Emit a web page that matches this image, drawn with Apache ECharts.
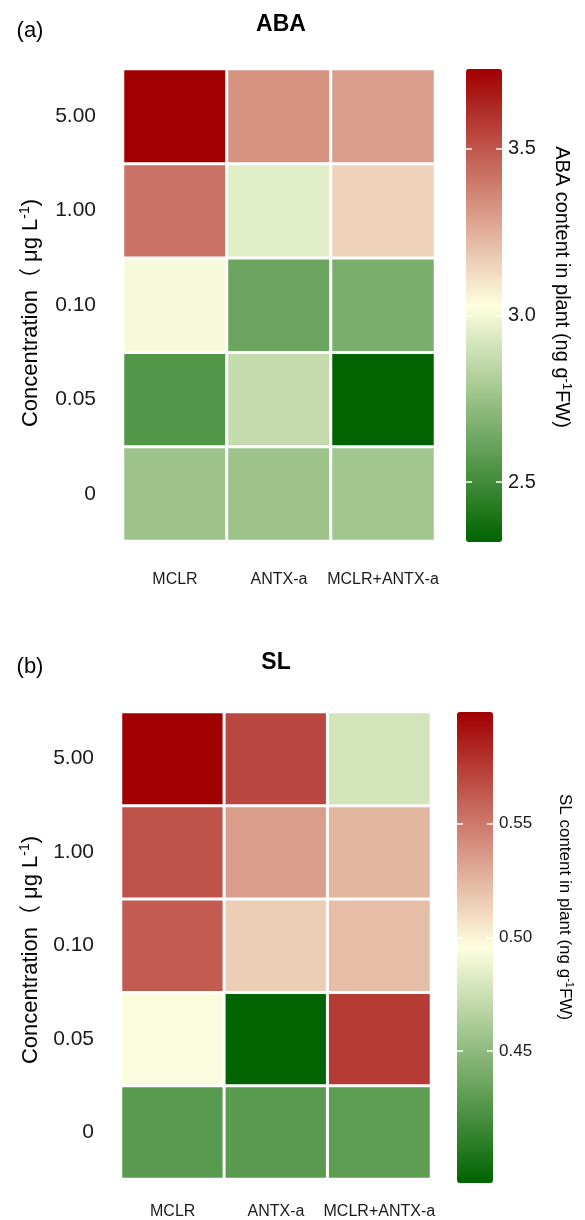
<!DOCTYPE html>
<html>
<head>
<meta charset="utf-8">
<script src="https://cdn.jsdelivr.net/npm/echarts@6/dist/echarts.min.js"></script>
<style>
html,body{margin:0;padding:0;background:#fff;}
#c{width:585px;height:1220px;}
</style>
</head>
<body>
<div id="c"></div>
<script>
// ---- data ----
const treatments = ['MCLR', 'ANTX-a', 'MCLR+ANTX-a'];
const concentrations = ['0', '0.05', '0.10', '1.00', '5.00']; // bottom -> top
// ABA content (ng g-1 FW), ordered as concentrations
const abaMCLR = [2.76, 2.55, 3.01, 3.42, 3.74];
const abaANTX = [2.76, 2.87, 2.62, 2.95, 3.33];
const abaMix  = [2.77, 2.32, 2.66, 3.15, 3.30];
// SL content (ng g-1 FW)
const slMCLR = [0.428, 0.494, 0.562, 0.565, 0.599];
const slANTX = [0.428, 0.392, 0.515, 0.535, 0.570];
const slMix  = [0.430, 0.575, 0.522, 0.525, 0.478];
const abaRange = [2.32, 3.74];
const slRange = [0.392, 0.599];
const abaTicks = [2.5, 3.0, 3.5];
const slTicks = [0.45, 0.50, 0.55];

function cells(arrs) {
  const out = [];
  arrs.forEach((arr, ci) => arr.forEach((v, ri) => out.push([ci, ri, v])));
  return out;
}
const abaData = cells([abaMCLR, abaANTX, abaMix]);
const slData = cells([slMCLR, slANTX, slMix]);

const FONT = '"Liberation Sans", Arial, "Noto Sans CJK SC", sans-serif';
const TXT = '#1a1a1a';
const ramp = ['#006400', '#FEFEE0', '#A00000'];

const A = {left: 123, top: 69, width: 312, height: 472, cbLeft: 466, cbWidth: 36, cbTop: 69, cbHeight: 473};
const B = {left: 121, top: 712, width: 310, height: 470, cbLeft: 457, cbWidth: 36, cbTop: 712, cbHeight: 471};

function catX(gi, margin) {
  return {type: 'category', gridIndex: gi, data: treatments,
    axisLine: {show: false}, axisTick: {show: false}, splitLine: {show: false},
    axisLabel: {interval: 0, fontSize: 16, color: TXT, fontFamily: FONT, margin: margin}};
}
function catY(gi) {
  return {type: 'category', gridIndex: gi, data: concentrations,
    axisLine: {show: false}, axisTick: {show: false}, splitLine: {show: false},
    axisLabel: {interval: 0, fontSize: 21, color: TXT, fontFamily: FONT, margin: 27}};
}
function hidX(gi) {
  return {type: 'value', gridIndex: gi, show: false, min: 0, max: 1};
}
function cbY(gi, range, ticks, pos, labels, dec, size) {
  return {type: 'value', gridIndex: gi, position: pos, min: range[0], max: range[1], z: 10,
    axisLine: {show: false}, splitLine: {show: false},
    axisTick: {show: true, inside: true, length: 6, customValues: ticks, lineStyle: {color: '#ffffff', width: 1.5}},
    axisLabel: {show: labels, customValues: ticks, fontSize: size, color: TXT, fontFamily: FONT, margin: 6,
      formatter: v => Number(v).toFixed(dec)}};
}

function rich(size) {
  return {
    a: {fontSize: size, fontFamily: FONT, color: TXT},
    s: {fontSize: Math.round(size * 0.65), fontFamily: FONT, color: TXT, padding: [0, 0, Math.round(size * 0.5), 0]}
  };
}

function rotText(x, y, text, r, rot) {
  return {type: 'text', x: x, y: y, rotation: rot, z: 20,
    style: {text: text, rich: r, align: 'center', verticalAlign: 'middle'}};
}
function plainText(x, y, text, size, bold) {
  return {type: 'text', x: x, y: y, z: 20,
    style: {text: text, fontSize: size, fontWeight: bold ? 'bold' : 'normal', fontFamily: FONT,
      fill: '#000', align: 'center', verticalAlign: 'middle'}};
}

const concName = '{a|Concentration（ μg L}{s|-1}{a|)}';

const option = {
  animation: false,
  backgroundColor: '#ffffff',
  grid: [
    {left: A.left, top: A.top, width: A.width, height: A.height},
    {left: B.left, top: B.top, width: B.width, height: B.height},
    {left: A.cbLeft, top: A.cbTop, width: A.cbWidth, height: A.cbHeight},
    {left: B.cbLeft, top: B.cbTop, width: B.cbWidth, height: B.cbHeight}
  ],
  xAxis: [catX(0, 31), catX(1, 25), hidX(2), hidX(3)],
  yAxis: [catY(0), catY(1),
    cbY(2, abaRange, abaTicks, 'left', false, 1, 20), cbY(2, abaRange, abaTicks, 'right', true, 1, 20),
    cbY(3, slRange, slTicks, 'left', false, 2, 17), cbY(3, slRange, slTicks, 'right', true, 2, 17)],
  visualMap: [
    {type: 'continuous', seriesIndex: 0, min: abaRange[0], max: abaRange[1], calculable: false,
     inRange: {color: ramp}, left: A.cbLeft, top: A.cbTop, itemWidth: A.cbWidth, itemHeight: A.cbHeight,
     text: null, padding: 0, hoverLink: false, showLabel: false},
    {type: 'continuous', seriesIndex: 1, min: slRange[0], max: slRange[1], calculable: false,
     inRange: {color: ramp}, left: B.cbLeft, top: B.cbTop, itemWidth: B.cbWidth, itemHeight: B.cbHeight,
     text: null, padding: 0, hoverLink: false, showLabel: false}
  ],
  series: [
    {type: 'heatmap', xAxisIndex: 0, yAxisIndex: 0, data: abaData,
     itemStyle: {borderColor: '#ffffff', borderWidth: 3}, emphasis: {disabled: true}},
    {type: 'heatmap', xAxisIndex: 1, yAxisIndex: 1, data: slData,
     itemStyle: {borderColor: '#ffffff', borderWidth: 3}, emphasis: {disabled: true}}
  ],
  graphic: [
    plainText(30, 31, '(a)', 22, false),
    plainText(281, 25, 'ABA', 23, true),
    plainText(30, 667, '(b)', 22, false),
    plainText(276, 663, 'SL', 23, true),
    rotText(31, 313, concName, rich(22), Math.PI / 2),
    rotText(31, 950, concName, rich(22), Math.PI / 2),
    rotText(562, 287, '{a|ABA content in plant (ng g}{s|-1}{a|FW)}', rich(20), -Math.PI / 2),
    rotText(565, 907, '{a|SL content in plant (ng g}{s|-1}{a|FW)}', rich(17), -Math.PI / 2)
  ]
};

const chart = echarts.init(document.getElementById('c'), null, {renderer: 'canvas', width: 585, height: 1220});
chart.setOption(option);
</script>
</body>
</html>
